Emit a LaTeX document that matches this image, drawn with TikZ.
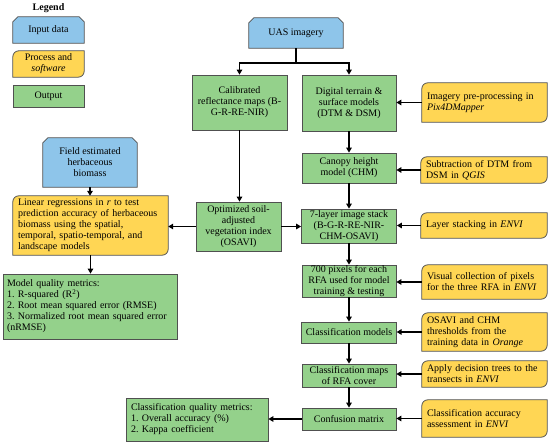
\documentclass[tikz,border=0pt]{standalone}
\usepackage{fontspec}
\setmainfont{Liberation Serif}
\frenchspacing
\usetikzlibrary{calc,arrows.meta}
\pgfdeclarelayer{bg}\pgfsetlayers{bg,main}
\definecolor{inblue}{RGB}{142,197,234}
\definecolor{procyel}{RGB}{255,214,84}
\definecolor{outgreen}{RGB}{148,209,139}
\definecolor{edgegray}{RGB}{80,80,80}
\newcommand\inshape[1]{\path[inputfill] (#1.south west) -- ($(#1.north west)+(0,-5)$) -- ($(#1.north west)+(5,0)$) -- ($(#1.north east)+(-5,0)$) -- ($(#1.north east)+(0,-5)$) -- (#1.south east) -- cycle;}
\newcommand\procshape[1]{\path[procfill] (#1.south west) -- ($(#1.north west)+(0,-6)$) arc[start angle=180,end angle=90,radius=6pt] -- (#1.north east) -- ($(#1.south east)+(0,6)$) arc[start angle=0,end angle=-90,radius=6pt] -- cycle;}
\tikzset{
  base/.style={inner ysep=0pt, inner xsep=4pt, font=\fontsize{10}{11}\selectfont\frenchspacing, align=center},
  outbox/.style={base, draw=edgegray, line width=0.8pt, fill=outgreen},
  inbox/.style={base},
  procbox/.style={base},
  inputfill/.style={draw=edgegray, line width=0.8pt, fill=inblue},
  procfill/.style={draw=edgegray, line width=0.8pt, fill=procyel},
  arr/.style={line width=1.7pt, -{Triangle[length=5pt,width=5.5pt]}},
  ln/.style={line width=1.7pt},
}
\begin{document}
\begin{tikzpicture}[x=1pt,y=1pt]
\useasboundingbox (0,0) rectangle (550,445);
% legend
\node[base, font=\fontsize{10}{11}\selectfont\bfseries] (legt) at (48.5,437) {Legend};
\node[inbox, minimum width=71, minimum height=26] (lin1) at (48.5,415) {Input data};
\node[procbox, minimum width=71, minimum height=26] (lproc) at (48.5,381) {Process and\\\textit{software}};
\node[outbox, minimum width=71, minimum height=22] (lout) at (48.5,349) {Output};
% main column
\node[inbox, minimum width=94, minimum height=30] (uas) at (296,412) {UAS imagery};
\node[outbox, minimum width=95, minimum height=55] (cal) at (239.5,342.5) {Calibrated\\reflectance maps (B-\\G-R-RE-NIR)};
\node[outbox, minimum width=94, minimum height=56] (dig) at (349,342) {Digital terrain \&\\surface models\\(DTM \& DSM)};
\node[procbox, minimum width=125, minimum height=39, text width=115pt, inner xsep=5pt, align=left] (img) at (484.5,342.5) {Imagery pre-processing in\\\textit{Pix4DMapper}};
\node[outbox, minimum width=94, minimum height=30] (chm) at (349,277) {Canopy height\\model (CHM)};
\node[procbox, minimum width=126, minimum height=26, text width=116pt, inner xsep=5pt, align=left] (sub) at (484,275) {Subtraction of DTM from\\DSM in \textit{QGIS}};
\node[outbox, minimum width=95, minimum height=34] (lay) at (349,219) {7-layer image stack\\(B-G-R-RE-NIR-\\CHM-OSAVI)};
\node[procbox, minimum width=126, minimum height=25, text width=116pt, inner xsep=5pt, align=left] (stk) at (484,219.5) {Layer stacking in \textit{ENVI}};
\node[outbox, minimum width=85, minimum height=49] (osa) at (238.5,218.5) {Optimized soil-\\adjusted\\vegetation index\\(OSAVI)};
\node[outbox, minimum width=94, minimum height=32] (pix) at (349,164) {700 pixels for each\\RFA used for model\\training \& testing};
\node[procbox, minimum width=125, minimum height=34, text width=115pt, inner xsep=5pt, align=left] (vis) at (484.5,163) {Visual collection of pixels\\for the three RFA in \textit{ENVI}};
\node[outbox, minimum width=94, minimum height=21] (cmod) at (349,112.5) {Classification models};
\node[procbox, minimum width=125, minimum height=38, text width=115pt, inner xsep=5pt, align=left] (thr) at (484.5,113) {OSAVI and CHM\\thresholds from the\\training data in \textit{Orange}};
\node[outbox, minimum width=94, minimum height=23] (cmap) at (349,69.5) {Classification maps\\of RFA cover};
\node[procbox, minimum width=125, minimum height=26, text width=115pt, inner xsep=5pt, align=left] (app) at (484.5,71) {Apply decision trees to the\\transects in \textit{ENVI}};
\node[outbox, minimum width=94, minimum height=22] (conf) at (349,26) {Confusion matrix};
\node[procbox, minimum width=125, minimum height=37, text width=115pt, inner xsep=5pt, align=left] (acc) at (484.5,26.5) {Classification accuracy\\assessment in \textit{ENVI}};
\node[outbox, minimum width=142, minimum height=43, text width=132pt, inner xsep=5pt, align=left] (cq) at (197,25.5) {Classification quality metrics:\\1. Overall accuracy (\%)\\2. Kappa coefficient};
% left column
\node[inbox, minimum width=94, minimum height=49] (fld) at (90,282.5) {Field estimated\\herbaceous\\biomass};
\node[procbox, minimum width=155, minimum height=59, text width=145pt, inner xsep=5pt, align=left] (lin) at (90.5,219.5) {Linear regressions in \textit{r} to test\\prediction accuracy of herbaceous\\biomass using the spatial,\\temporal, spatio-temporal, and\\landscape models};
\node[outbox, minimum width=174, minimum height=65, text width=166pt, inner xsep=4pt, align=left] (mq) at (90,138.5) {Model quality metrics:\\1. R-squared (R\textsuperscript{2})\\2. Root mean squared error (RMSE)\\3. Normalized root mean squared error\\(nRMSE)};
% shapes
\begin{pgfonlayer}{bg}
\inshape{lin1}\inshape{uas}\inshape{fld}
\procshape{lproc}\procshape{img}\procshape{sub}\procshape{stk}\procshape{vis}\procshape{thr}\procshape{app}\procshape{acc}\procshape{lin}
\end{pgfonlayer}
% connectors
\coordinate (jn) at ($(uas.south)+(0,-15)$);
\draw[ln] (uas.south) -- (jn);
\draw[arr] (jn) -| (cal.north);
\draw[arr] (jn) -| (dig.north);
\draw[arr] (cal.south) -- (cal.south |- osa.north);
\draw[arr] (img.west) -- (img.west -| dig.east);
\draw[arr] (dig.south) -- (chm.north);
\draw[arr] (sub.west) -- (sub.west -| chm.east);
\draw[arr] (chm.south) -- (lay.north);
\draw[arr] (stk.west) -- (stk.west -| lay.east);
\draw[arr] (osa.east) -- (osa.east -| lay.west);
\draw[arr] (osa.west) -- (osa.west -| lin.east);
\draw[arr] (lay.south) -- (pix.north);
\draw[arr] (vis.west) -- (vis.west -| pix.east);
\draw[arr] (pix.south) -- (cmod.north);
\draw[arr] (thr.west) -- (thr.west -| cmod.east);
\draw[arr] (cmod.south) -- (cmap.north);
\draw[arr] (app.west) -- (app.west -| cmap.east);
\draw[arr] (cmap.south) -- (conf.north);
\draw[arr] (acc.west) -- (acc.west -| conf.east);
\draw[arr] (conf.west) -- (conf.west -| cq.east);
\draw[arr] (fld.south) -- (fld.south |- lin.north);
\draw[arr] (lin.south) -- (lin.south |- mq.north);
\end{tikzpicture}
\end{document}
